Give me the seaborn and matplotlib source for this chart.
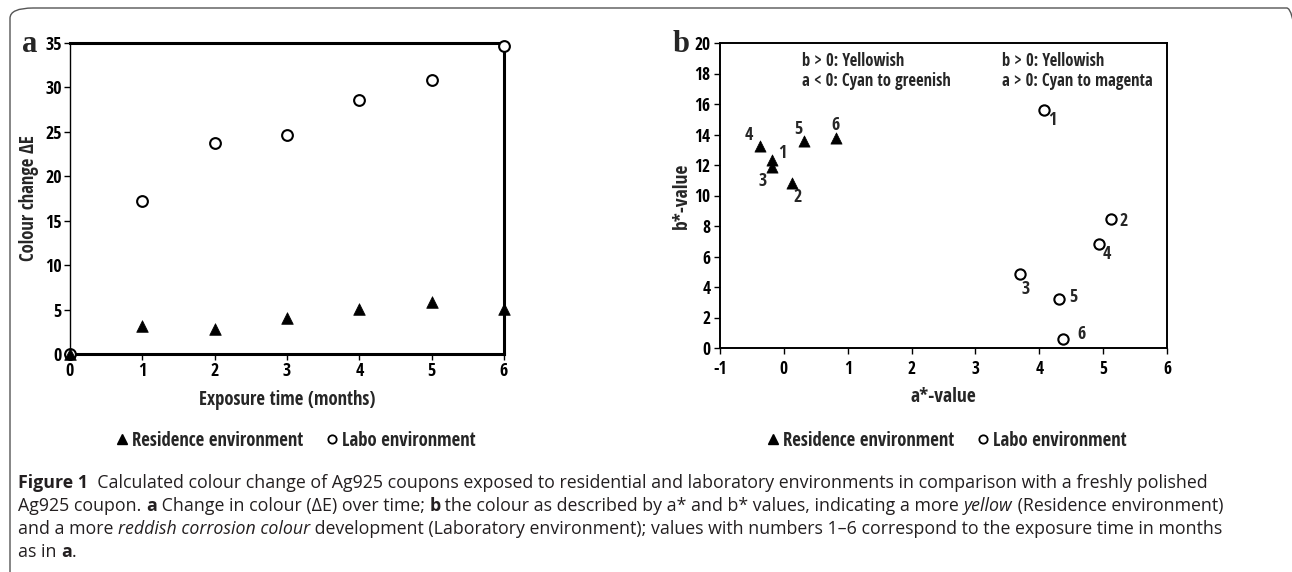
import os
import matplotlib
matplotlib.use("Agg")
import numpy as np
import pandas as pd
import seaborn as sns
import matplotlib.pyplot as plt
from matplotlib import font_manager as fm
from matplotlib.font_manager import FontProperties
from matplotlib.patches import FancyBboxPatch
from matplotlib.lines import Line2D

# ---------------- data ----------------
months = [0, 1, 2, 3, 4, 5, 6]
res_dE = [0.0, 3.1, 2.8, 4.1, 5.1, 5.8, 5.1]
labo_dE = [0.0, 17.2, 23.7, 24.6, 28.6, 30.8, 34.7]

b_months = [1, 2, 3, 4, 5, 6]
res_a = [-0.18, 0.13, -0.19, -0.38, 0.31, 0.81]
res_b = [12.3, 10.8, 11.9, 13.25, 13.6, 13.8]
labo_a = [4.08, 5.13, 3.70, 4.93, 4.31, 4.37]
labo_b = [15.6, 8.44, 4.83, 6.82, 3.22, 0.59]

series_names = ["Residence environment", "Labo environment"]
a_xticks = [0, 1, 2, 3, 4, 5, 6]
a_yticks = [0, 5, 10, 15, 20, 25, 30, 35]
b_xticks = [-1, 0, 1, 2, 3, 4, 5, 6]
b_yticks = [0, 2, 4, 6, 8, 10, 12, 14, 16, 18, 20]

# label offsets in pixels (layout only)
res_lab_off = {1: (10, 7), 2: (5, -14), 3: (-9, -14), 4: (-11, 11), 5: (-5, 12), 6: (0, 13)}
labo_lab_off = {1: (8, -10), 2: (12, -2), 3: (5, -15), 4: (8, -10), 5: (14, 2), 6: (19, 5)}

# ---------------- style ----------------
sns.set_theme(style="white")
plt.rcParams["font.family"] = ["Liberation Sans", "DejaVu Sans"]


def find_narrow_bold():
    prefs = ["liberationsansnarrow", "opensanscondbold", "opensans-condbold",
             "opensanscondensed", "dejavusanscondensed"]
    files = [f.fname for f in fm.fontManager.ttflist]
    for key in prefs:
        for fn in files:
            b = os.path.basename(fn).lower().replace("_", "")
            if key in b.replace("-", "") or key in b:
                if "bold" in b and "italic" not in b and "oblique" not in b:
                    return fn
    return None


NARROW = find_narrow_bold()


def nf(size):
    if NARROW:
        return FontProperties(fname=NARROW, size=size)
    return FontProperties(family=["Liberation Sans", "DejaVu Sans"], weight="bold", size=size)


W, H = 1292, 572
fig = plt.figure(figsize=(W / 100, H / 100), dpi=100)


def px_axes(l, t, r, b):
    return fig.add_axes([l / W, 1 - b / H, (r - l) / W, (b - t) / H])


df_a = pd.DataFrame({
    "month": months * 2,
    "dE": res_dE + labo_dE,
    "env": [series_names[0]] * len(months) + [series_names[1]] * len(months),
})
df_b = pd.DataFrame({
    "month": b_months * 2,
    "a": res_a + labo_a,
    "b": res_b + labo_b,
    "env": [series_names[0]] * len(b_months) + [series_names[1]] * len(b_months),
})

# ---------------- panel a ----------------
axA = px_axes(70, 43, 504, 354)
sns.scatterplot(data=df_a[df_a.env == series_names[0]], x="month", y="dE", marker="^",
                color="black", s=70, edgecolor="black", linewidth=0.5, ax=axA,
                clip_on=False, legend=False, zorder=5)
sns.scatterplot(data=df_a[df_a.env == series_names[1]], x="month", y="dE", marker="o",
                facecolor="white", edgecolor="black", s=60, linewidth=1.5, ax=axA,
                clip_on=False, legend=False, zorder=4)
axA.set_xlim(0, 6)
axA.set_ylim(0, 35)
axA.set_xticks(a_xticks)
axA.set_yticks(a_yticks)
axA.set_xticklabels([str(v) for v in a_xticks], fontproperties=nf(13))
axA.set_yticklabels([str(v) for v in a_yticks], fontproperties=nf(13))
axA.tick_params(axis="both", direction="out", length=4, width=1, colors="black", pad=2,
                bottom=True, left=True)
for side, lw in {"top": 2.2, "right": 2.2, "bottom": 2.2, "left": 1.0}.items():
    axA.spines[side].set_visible(True)
    axA.spines[side].set_color("black")
    axA.spines[side].set_linewidth(lw)
axA.set_xlabel("Exposure time (months)", fontproperties=nf(13.5), labelpad=7)
axA.set_ylabel("Colour change ΔE", fontproperties=nf(13.5), labelpad=4)

# ---------------- panel b ----------------
axB = px_axes(720, 43, 1167, 348)
sns.scatterplot(data=df_b[df_b.env == series_names[0]], x="a", y="b", marker="^",
                color="black", s=65, edgecolor="black", linewidth=0.5, ax=axB,
                clip_on=False, legend=False, zorder=5)
sns.scatterplot(data=df_b[df_b.env == series_names[1]], x="a", y="b", marker="o",
                facecolor="white", edgecolor="black", s=55, linewidth=1.5, ax=axB,
                clip_on=False, legend=False, zorder=4)
axB.set_xlim(-1, 6)
axB.set_ylim(0, 20)
axB.set_xticks(b_xticks)
axB.set_yticks(b_yticks)
axB.set_xticklabels([str(v) for v in b_xticks], fontproperties=nf(12.5))
axB.set_yticklabels([str(v) for v in b_yticks], fontproperties=nf(12.5))
axB.tick_params(axis="x", direction="out", length=4, width=1, colors="black", pad=5,
                bottom=True)
axB.tick_params(axis="y", direction="out", length=4, width=1, colors="black", pad=3,
                left=True)
for side in ["top", "right", "bottom", "left"]:
    axB.spines[side].set_visible(True)
    axB.spines[side].set_color("black")
    axB.spines[side].set_linewidth(1.4)
axB.set_xlabel("a*-value", fontproperties=nf(14), labelpad=6)
axB.set_ylabel("b*-value", fontproperties=nf(14), labelpad=2)

for m, x, y in zip(b_months, res_a, res_b):
    axB.annotate(str(m), (x, y), xytext=res_lab_off[m], textcoords="offset pixels",
                 ha="center", va="center", fontproperties=nf(13))
for m, x, y in zip(b_months, labo_a, labo_b):
    axB.annotate(str(m), (x, y), xytext=labo_lab_off[m], textcoords="offset pixels",
                 ha="center", va="center", fontproperties=nf(13))

axB.text(0.28, 18.8, "b > 0: Yellowish", va="center", fontproperties=nf(12))
axB.text(0.28, 17.5, "a < 0: Cyan to greenish", va="center", fontproperties=nf(12))
axB.text(3.42, 18.8, "b > 0: Yellowish", va="center", fontproperties=nf(12))
axB.text(3.42, 17.5, "a > 0: Cyan to magenta", va="center", fontproperties=nf(12))

# ---------------- legends ----------------
handles = [
    Line2D([], [], marker="^", color="black", linestyle="none", markersize=7),
    Line2D([], [], marker="o", markerfacecolor="white", markeredgecolor="black",
           markeredgewidth=1.3, linestyle="none", markersize=6),
]
for cx in (295 / W, 946 / W):
    fig.legend(handles, series_names, loc="center", bbox_to_anchor=(cx, 1 - 441 / H),
               ncol=2, frameon=False, handletextpad=0.15, columnspacing=1.1,
               handlelength=0.8, prop=nf(13.5))

# ---------------- panel letters ----------------
fig.text(30 / W, 1 - 45 / H, "a", fontsize=22, fontweight="bold", ha="center", va="center",
         family=["Liberation Serif", "DejaVu Serif"])
fig.text(681 / W, 1 - 45 / H, "b", fontsize=22, fontweight="bold", ha="center", va="center",
         family=["Liberation Serif", "DejaVu Serif"])

# ---------------- border ----------------
box = FancyBboxPatch((10 / W, 1 - 590 / H), 1300 / W, (590 - 8) / H,
                     boxstyle="round,pad=0,rounding_size=0.018", transform=fig.transFigure,
                     facecolor="none", edgecolor="#555555", linewidth=1.0, clip_on=False)
fig.add_artist(box)

# ---------------- caption ----------------
CAPF = ["Open Sans", "DejaVu Sans"]
cap_lines = [
    [("Figure 1", "bold", "normal"),
     ("  Calculated colour change of Ag925 coupons exposed to residential and laboratory environments in comparison with a freshly polished", "normal", "normal")],
    [("Ag925 coupon. ", "normal", "normal"), ("a", "bold", "normal"),
     (" Change in colour (ΔE) over time; ", "normal", "normal"), ("b", "bold", "normal"),
     (" the colour as described by a* and b* values, indicating a more ", "normal", "normal"),
     ("yellow", "normal", "italic"), (" (Residence environment)", "normal", "normal")],
    [("and a more ", "normal", "normal"), ("reddish corrosion colour", "normal", "italic"),
     (" development (Laboratory environment); values with numbers 1–6 correspond to the exposure time in months", "normal", "normal")],
    [("as in ", "normal", "normal"), ("a", "bold", "normal"), (".", "normal", "normal")],
]
cap_y = [483, 506, 529, 552]
renderer = fig.canvas.get_renderer()


def draw_line(segs, yy, size, draw=True):
    x = 18.0
    made = []
    for txt, wt, st in segs:
        t = fig.text(x / W, 1 - yy / H, txt, fontsize=size, fontweight=wt, fontstyle=st,
                     family=CAPF, color="#231f20", ha="left", va="center")
        x += t.get_window_extent(renderer).width
        made.append(t)
    if not draw:
        for t in made:
            t.remove()
    return x - 18.0


base = 11.0
w0 = draw_line(cap_lines[0], cap_y[0], base, draw=False)
cap_size = base * 1190.0 / w0
for segs, yy in zip(cap_lines, cap_y):
    draw_line(segs, yy, cap_size)

fig.savefig("out.png", dpi=100, facecolor="white")
